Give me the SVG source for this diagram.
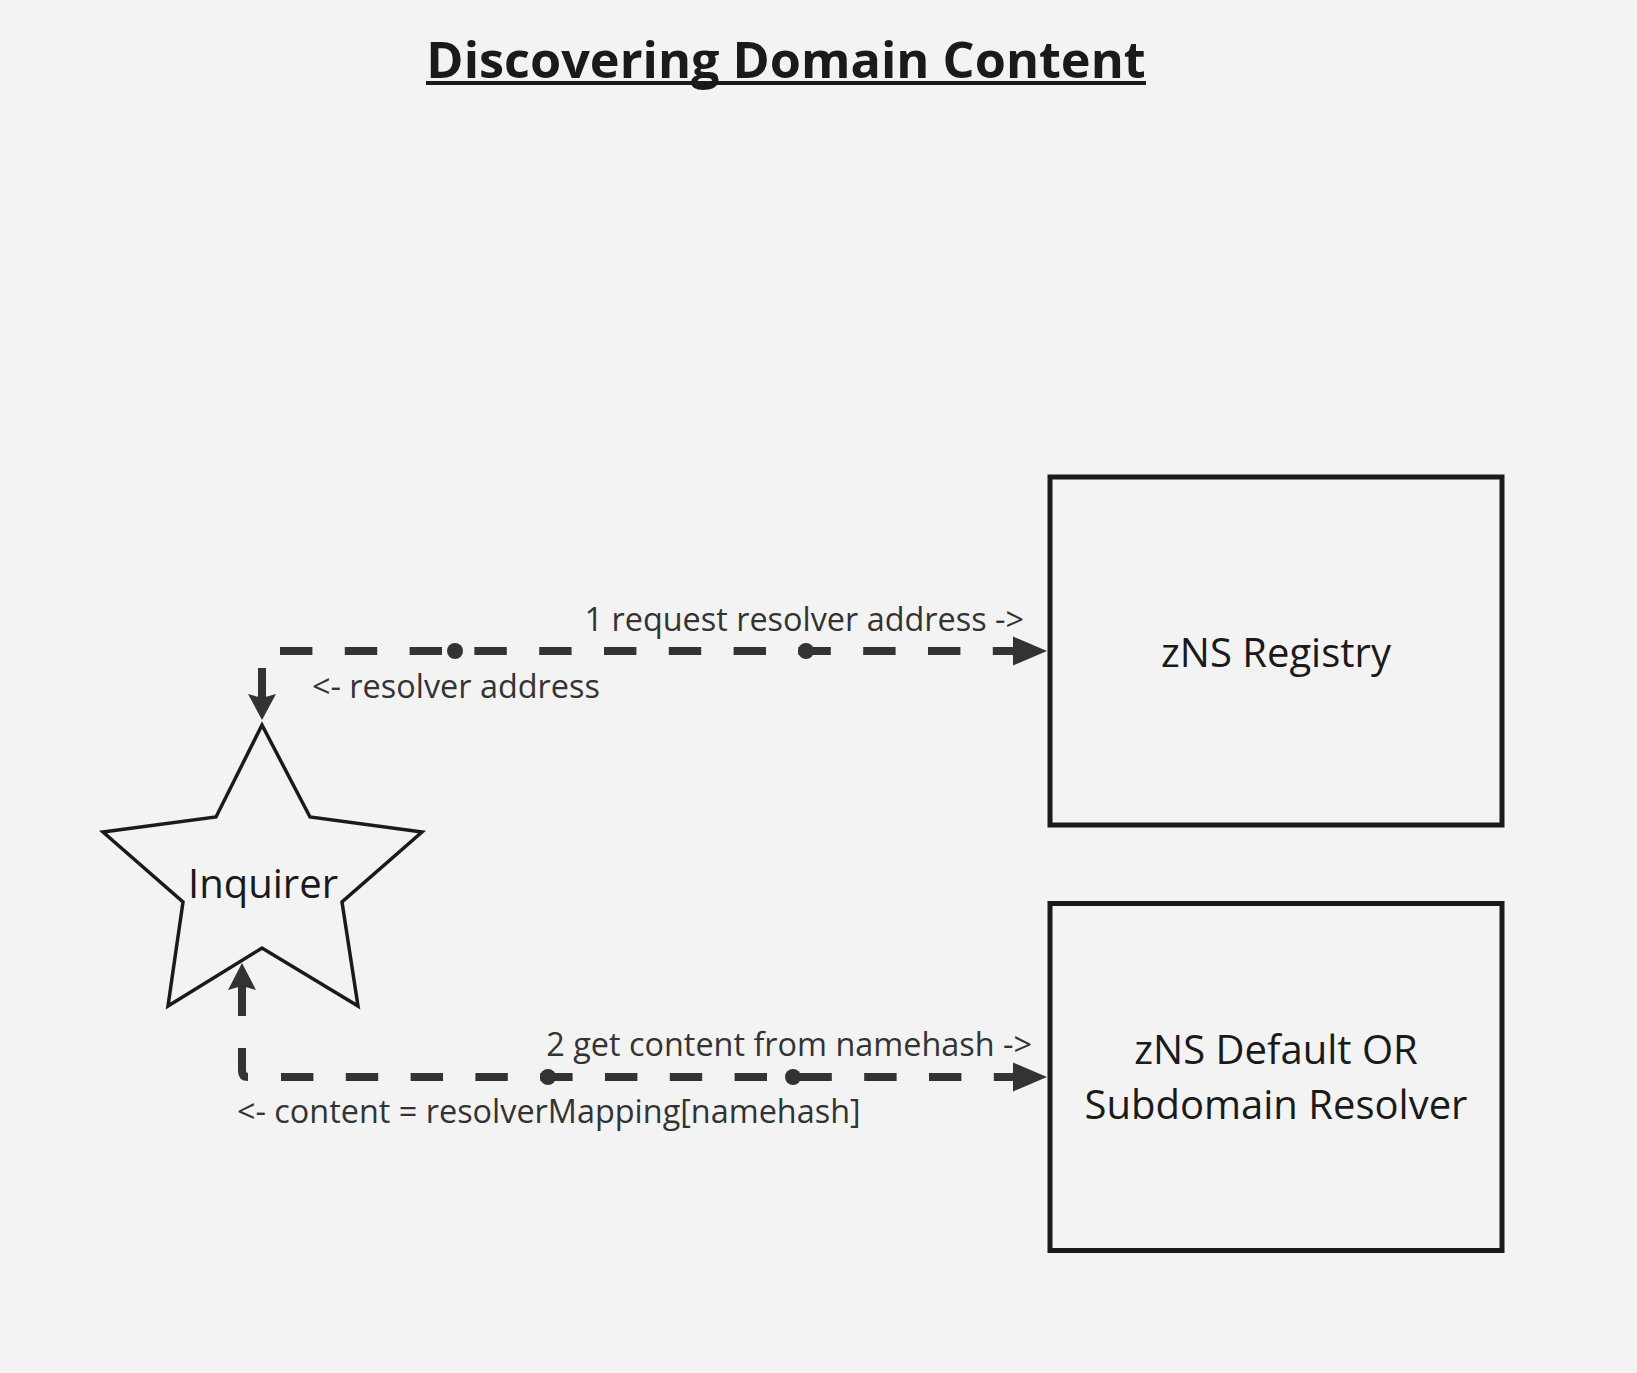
<svg xmlns="http://www.w3.org/2000/svg" width="1637" height="1373" viewBox="0 0 1637 1373">
<style>
.node{fill:#f3f3f3;stroke:#1a1a1a;stroke-width:5}
.star{fill:#f3f3f3;stroke:#1a1a1a;stroke-width:3.5;stroke-linejoin:miter}
.ntext{font-family:"Open Sans","Noto Sans",sans-serif;font-size:40px;fill:#1a1a1a;text-anchor:middle}
.lbl{font-family:"Open Sans","Noto Sans",sans-serif;font-size:32.4px;fill:#333333}
.dash{fill:none;stroke:#333333;stroke-width:8;stroke-dasharray:32.4 32.4}
.solid{fill:none;stroke:#333333;stroke-width:8}
.head{fill:#333333}
</style>
<rect x="0" y="0" width="1637" height="1373" fill="#f3f3f3"/>
<g id="title">
<text x="786" y="78" font-family="'Open Sans','Noto Sans',sans-serif" font-size="50.4" font-weight="bold" fill="#1a1a1a" text-anchor="middle">Discovering Domain Content</text>
<rect x="426" y="81" width="720" height="4" fill="#1a1a1a"/>
</g>
<g id="registry">
<rect class="node" x="1050" y="477" width="452" height="348"/>
<text class="ntext" x="1276" y="667">zNS Registry</text>
</g>
<g id="resolver">
<rect class="node" x="1050" y="903.5" width="452" height="347"/>
<text class="ntext" x="1276" y="1064">zNS Default OR</text>
<text class="ntext" x="1276" y="1119">Subdomain Resolver</text>
</g>
<g id="inquirer">
<polygon class="star" points="262,725 310,817 422,832 342,902 358,1006 262,948 168,1006 183,902 103,832 216,817"/>
<text class="ntext" x="263" y="898">Inquirer</text>
</g>
<g id="connectors">
<g id="conn-request-resolver">
<path class="dash" d="M280,651 H1020"/>
<polygon class="head" points="1013,636.5 1047,651 1013,665.5"/>
<circle class="head" cx="455" cy="651" r="8"/>
<circle class="head" cx="806" cy="651" r="8"/>
<path class="solid" d="M262,668 V698"/>
<polygon class="head" points="248,694 262,720 276,694 262,698"/>
<text class="lbl" x="1024" y="631" text-anchor="end">1 request resolver address -&gt;</text>
<text class="lbl" x="312" y="697.5">&lt;- resolver address</text>
</g>
<g id="conn-get-content">
<path class="dash" d="M281,1077 H1020"/>
<polygon class="head" points="1013,1062.5 1047,1077 1013,1091.5"/>
<circle class="head" cx="548" cy="1077" r="8"/>
<circle class="head" cx="793" cy="1077" r="8"/>
<path class="solid" d="M242,1048 V1071 Q242,1077 248,1077"/>
<path class="solid" d="M242,1016 V985"/>
<polygon class="head" points="228,990 242,963 256,990 242,986"/>
<text class="lbl" x="1032" y="1056" text-anchor="end">2 get content from namehash -&gt;</text>
<text class="lbl" x="237" y="1123">&lt;- content = resolverMapping[namehash]</text>
</g>
</g>
</svg>
